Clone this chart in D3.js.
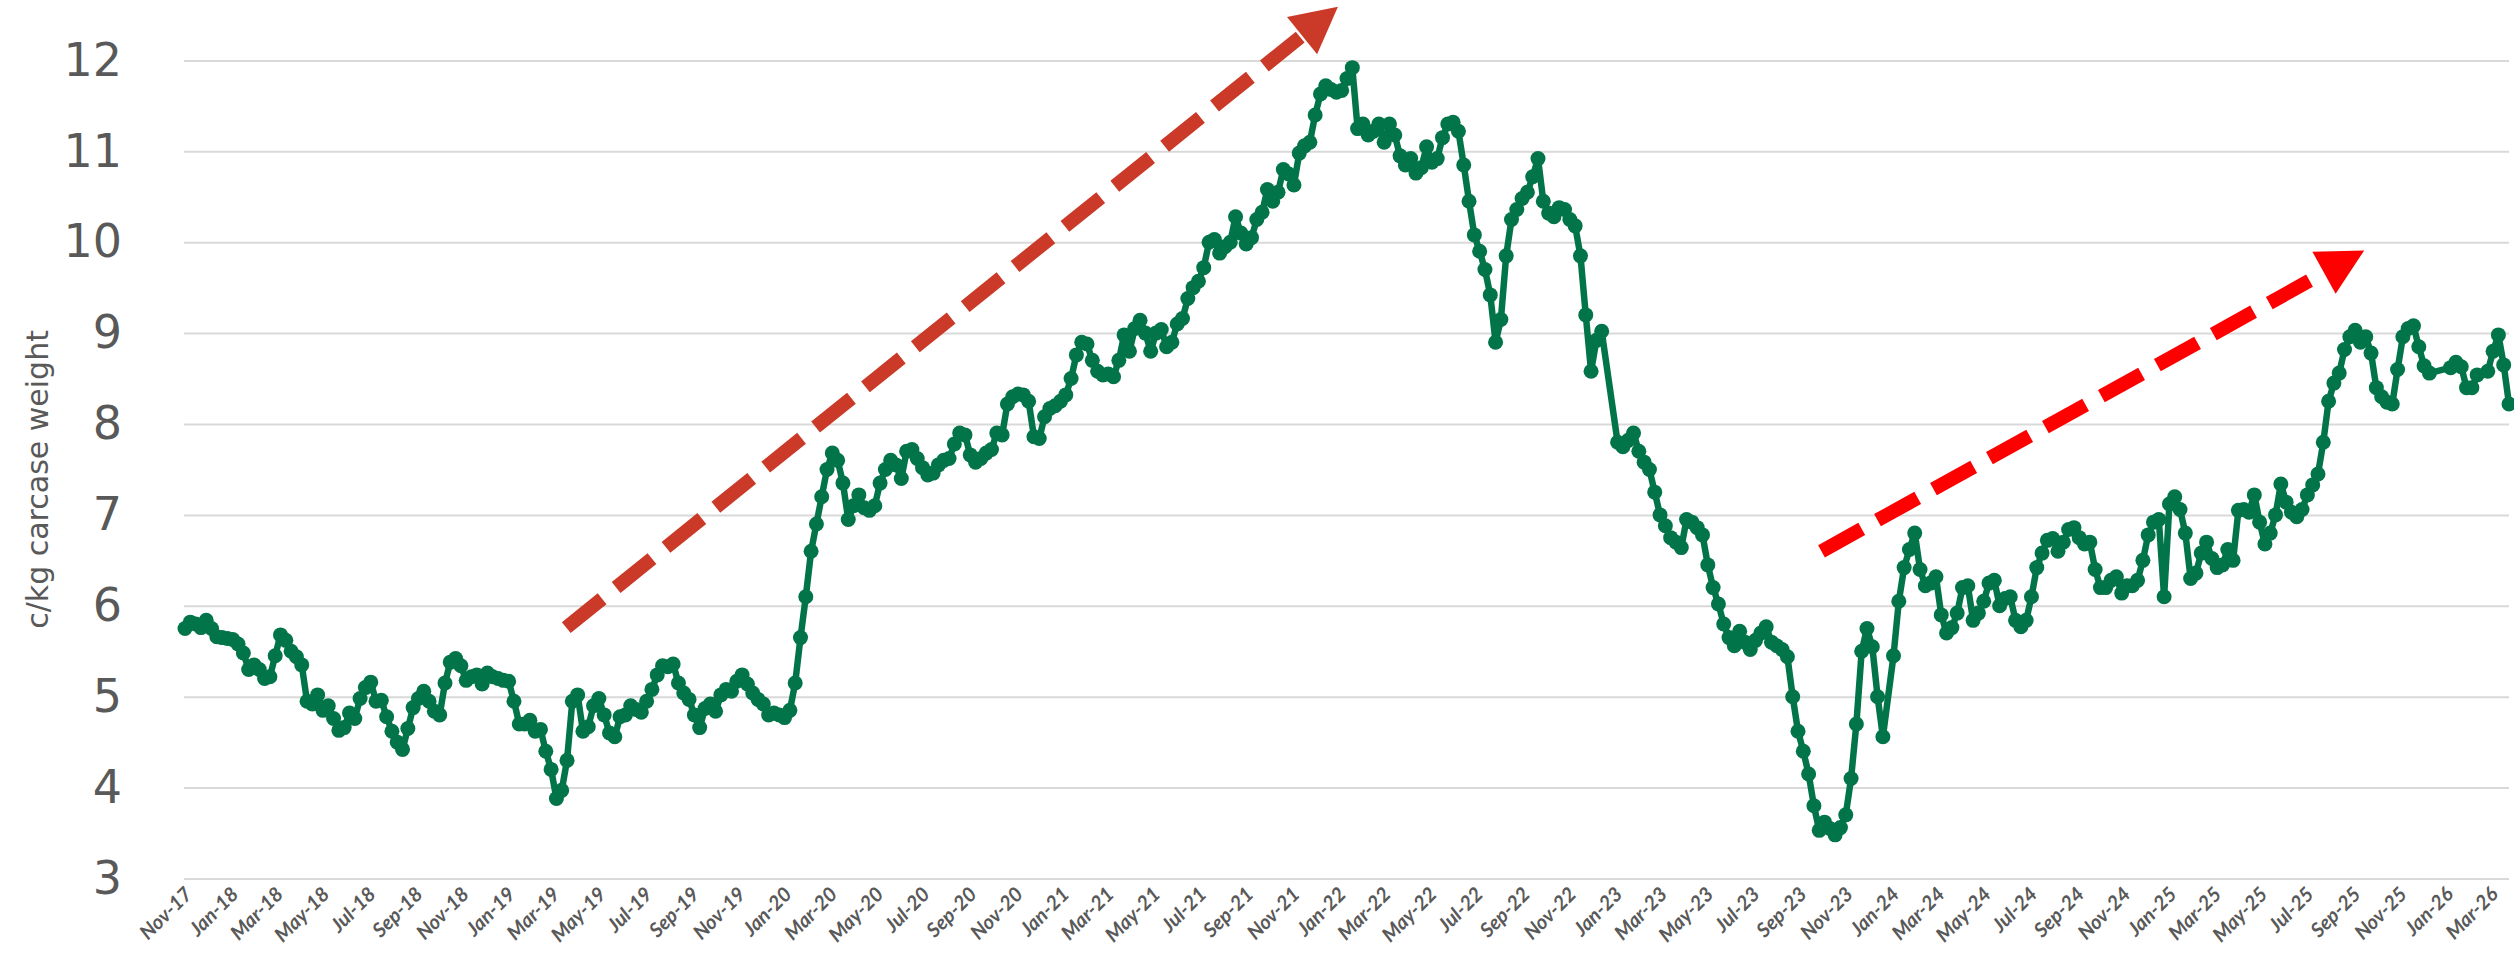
<!DOCTYPE html>
<html>
<head>
<meta charset="utf-8">
<script src="https://cdn.jsdelivr.net/npm/d3@7"></script>
<style>
body { margin: 0; background: #fff; }
svg { display: block; }
</style>
</head>
<body>
<script>
// weekly quotes, first week 3 Nov 2017; null = no quote that week
var firstWeek = "2017-11-03";

var price2017 = [5.75, 5.82, 5.80, 5.76, 5.84, 5.75, 5.66, 5.65, 5.64];
var price2018 = [5.63, 5.58, 5.48, 5.30, 5.35, 5.30, 5.20, 5.22, 5.45, 5.68, 5.62, 5.50, 5.44,
                 5.35, 4.95, 4.92, 5.02, 4.85, 4.90, 4.76, 4.63, 4.66, 4.82, 4.76, 4.98, 5.10,
                 5.16, 4.95, 4.96, 4.78, 4.62, 4.50, 4.42, 4.65, 4.88, 4.98, 5.06, 4.95, 4.84,
                 4.80, 5.15, 5.38, 5.42, 5.34, 5.18, 5.22, 5.24, 5.14, 5.26, 5.22, 5.20, 5.18];
var price2019 = [5.17, 4.95, 4.70, 4.70, 4.74, 4.62, 4.64, 4.40, 4.20, 3.88, 3.97, 4.30, 4.95,
                 5.02, 4.62, 4.67, 4.90, 4.98, 4.80, 4.60, 4.56, 4.78, 4.80, 4.90, 4.86, 4.83,
                 4.95, 5.08, 5.24, 5.34, 5.33, 5.36, 5.15, 5.04, 4.97, 4.80, 4.66, 4.87, 4.92,
                 4.84, 5.02, 5.08, 5.06, 5.17, 5.24, 5.14, 5.04, 4.97, 4.92, 4.80, 4.82, 4.80];
var price2020 = [4.77, 4.85, 5.15, 5.65, 6.10, 6.60, 6.90, 7.20, 7.50, 7.68, 7.60, 7.35, 6.95,
                 7.10, 7.22, 7.08, 7.05, 7.10, 7.35, 7.50, 7.60, 7.55, 7.40, 7.70, 7.72, 7.62,
                 7.52, 7.44, 7.46, 7.55, 7.60, 7.62, 7.78, 7.90, 7.88, 7.66, 7.58, 7.62, 7.68,
                 7.72, 7.90, 7.88, 8.22, 8.30, 8.33, 8.32, 8.25, 7.86, 7.84, 8.08, 8.17, 8.20];
var price2021 = [8.25, 8.32, 8.50, 8.76, 8.90, 8.88, 8.70, 8.58, 8.54, 8.55, 8.52, 8.70, 8.98,
                 8.80, 9.05, 9.14, 9.00, 8.80, 9.00, 9.04, 8.85, 8.90, 9.10, 9.16, 9.38, 9.50,
                 9.57, 9.72, 10.00, 10.03, 9.88, 9.95, 10.00, 10.28, 10.10, 9.98, 10.05, 10.25, 10.33,
                 10.58, 10.45, 10.55, 10.80, 10.75, 10.63, 10.98, 11.06, 11.10, 11.40, 11.63, 11.72, 11.68,
                 11.65];
var price2022 = [11.67, 11.80, 11.92, 11.25, 11.30, 11.18, 11.22, 11.30, 11.10, 11.30, 11.18, 10.95, 10.85,
                 10.92, 10.76, 10.82, 11.05, 10.88, 10.92, 11.15, 11.30, 11.32, 11.22, 10.85, 10.45, 10.08,
                 9.90, 9.70, 9.42, 8.90, 9.15, 9.85, 10.25, 10.36, 10.48, 10.55, 10.72, 10.92, 10.45,
                 10.32, 10.28, 10.38, 10.36, 10.25, 10.18, 9.85, 9.20, 8.58, 8.92, 9.02, null, null];
var price2023 = [7.80, 7.75, 7.82, 7.90, 7.70, 7.58, 7.50, 7.25, 7.00, 6.88, 6.75, 6.70, 6.64,
                 6.95, 6.92, 6.86, 6.78, 6.45, 6.20, 6.02, 5.80, 5.65, 5.56, 5.72, 5.60, 5.52,
                 5.62, 5.70, 5.77, 5.60, 5.56, 5.52, 5.44, 5.00, 4.62, 4.40, 4.15, 3.80, 3.53,
                 3.62, 3.55, 3.48, 3.56, 3.70, 4.10, 4.70, 5.50, 5.75, 5.55, 5.00, 4.56, null];
var price2024 = [5.45, 6.05, 6.42, 6.62, 6.80, 6.40, 6.22, 6.25, 6.32, 5.90, 5.70, 5.76, 5.92,
                 6.20, 6.22, 5.84, 5.92, 6.05, 6.25, 6.28, 6.00, 6.08, 6.10, 5.84, 5.77, 5.84,
                 6.10, 6.42, 6.58, 6.72, 6.74, 6.60, 6.70, 6.84, 6.86, 6.75, 6.68, 6.70, 6.40,
                 6.20, 6.20, 6.28, 6.32, 6.14, 6.22, 6.22, 6.28, 6.50, 6.78, 6.92, 6.95, 6.10];
var price2025 = [7.12, 7.20, 7.06, 6.80, 6.30, 6.36, 6.58, 6.70, 6.52, 6.42, 6.45, 6.62, 6.50,
                 7.05, 7.06, 7.03, 7.22, 6.92, 6.68, 6.80, 7.00, 7.34, 7.14, 7.03, 6.98, 7.06,
                 7.22, 7.33, 7.45, 7.80, 8.25, 8.45, 8.56, 8.82, 8.96, 9.03, 8.90, 8.96, 8.78,
                 8.40, 8.30, 8.24, 8.22, 8.60, 8.96, 9.05, 9.08, 8.85, 8.64, 8.56, null, null];
var price2026 = [null, 8.62, 8.68, 8.63, 8.40, 8.40, 8.54, null, 8.58, 8.80, 8.98, 8.65, 8.22];

var yTicks = [3, 4, 5, 6, 7, 8, 9, 10, 11, 12];
var yTitle = "c/kg carcase weight";

// trend arrows: tail and tip as [date, value]
var arrowTails = [["2019-03-21", 5.76], ["2023-10-02", 6.60]];
var arrowTips = [["2022-01-02", 12.59], ["2025-09-17", 9.91]];
var arrowColors = ["#cb3a28", "#ff0000"];

var chart = (function() {
    var w = 2514, h = 959;
    var plotLeft = 185, plotRight = 2509, plotTop = 60.4, plotBottom = 878.5;
    var green = "#02744a", grey = "#595959";

    var parse = d3.timeParse("%Y-%m-%d");
    var start = parse(firstWeek);
    var prices = [].concat(price2017, price2018, price2019, price2020, price2021,
                           price2022, price2023, price2024, price2025, price2026);

    var series = [];
    prices.forEach(function(v, i) {
        if (v !== null) series.push({date: d3.timeDay.offset(start, 7 * i), value: v});
    });

    var svg = d3.select("body")
                .append("svg")
                .attr("width", w)
                .attr("height", h);

    svg.append("rect")
        .attr("width", w)
        .attr("height", h)
        .attr("fill", "#fff");

    var xScale = d3.scaleTime()
                    .domain([start, d3.timeDay.offset(start, 7 * (prices.length - 1))])
                    .range([plotLeft, plotRight]);

    var yScale = d3.scaleLinear()
                    .domain([3, 12])
                    .range([plotBottom, plotTop]);

    // gridlines
    var grid = svg.append("g")
        .attr("transform", "translate(" + (plotLeft - 1) + ",0)")
        .call(d3.axisLeft(yScale).tickValues(yTicks).tickSize(-(plotRight - plotLeft + 1)).tickFormat(""));
    grid.select(".domain").remove();
    grid.selectAll("line").attr("stroke", "#d9d9d9").attr("stroke-width", 2);

    // y labels
    var yAxis = svg.append("g")
        .attr("transform", "translate(" + (plotLeft - 1) + ",0)")
        .call(d3.axisLeft(yScale).tickValues(yTicks).tickSize(0).tickPadding(62));
    yAxis.select(".domain").remove();
    yAxis.selectAll("text")
        .attr("fill", grey)
        .attr("font-family", "DejaVu Sans")
        .attr("font-size", 46);

    svg.append("text")
        .attr("transform", "translate(48," + ((plotTop + plotBottom) / 2 + 10) + ") rotate(-90)")
        .attr("text-anchor", "middle")
        .attr("fill", grey)
        .attr("font-family", "DejaVu Sans")
        .attr("font-size", 30)
        .text(yTitle);

    // x labels every two months from the first week
    var xTicks = [];
    for (var k = 0; d3.timeMonth.offset(start, 2 * k) <= xScale.domain()[1]; k++) {
        xTicks.push(d3.timeMonth.offset(start, 2 * k));
    }

    var xAxis = svg.append("g")
        .attr("transform", "translate(0," + plotBottom + ")")
        .call(d3.axisBottom(xScale).tickValues(xTicks).tickSize(0).tickFormat(d3.timeFormat("%b-%y")));
    xAxis.select(".domain").remove();
    xAxis.selectAll("text")
        .attr("x", 0)
        .attr("y", 0)
        .attr("dy", "0.35em")
        .attr("text-anchor", "end")
        .attr("transform", "translate(3,12) rotate(-45)")
        .attr("fill", grey)
        .attr("font-family", "Lato")
        .attr("font-style", "italic")
        .attr("font-weight", "bold")
        .attr("font-size", 20);

    // price line with markers
    var line = d3.line()
        .x(d => xScale(d.date))
        .y(d => yScale(d.value));

    svg.append("path")
        .datum(series)
        .attr("d", line)
        .attr("fill", "none")
        .attr("stroke", green)
        .attr("stroke-width", 6.5)
        .attr("stroke-linejoin", "round");

    svg.append("g")
        .selectAll("circle")
        .data(series)
        .enter()
        .append("circle")
        .attr("cx", d => xScale(d.date))
        .attr("cy", d => yScale(d.value))
        .attr("r", 7.5)
        .attr("fill", green);

    // dashed trend arrows
    var headLen = 46, headHalf = 24;
    arrowTails.forEach(function(tail, i) {
        var x0 = xScale(parse(tail[0])), y0 = yScale(tail[1]);
        var x1 = xScale(parse(arrowTips[i][0])), y1 = yScale(arrowTips[i][1]);
        var len = Math.hypot(x1 - x0, y1 - y0);
        var ux = (x1 - x0) / len, uy = (y1 - y0) / len;
        var bx = x1 - ux * headLen, by = y1 - uy * headLen;

        svg.append("line")
            .attr("x1", x0).attr("y1", y0)
            .attr("x2", bx + ux * 4).attr("y2", by + uy * 4)
            .attr("stroke", arrowColors[i])
            .attr("stroke-width", 14)
            .attr("stroke-dasharray", "46,18");

        svg.append("polygon")
            .attr("points", [[x1, y1],
                             [bx - uy * headHalf, by + ux * headHalf],
                             [bx + uy * headHalf, by - ux * headHalf]].join(" "))
            .attr("fill", arrowColors[i]);
    });
})();
</script>
</body>
</html>
